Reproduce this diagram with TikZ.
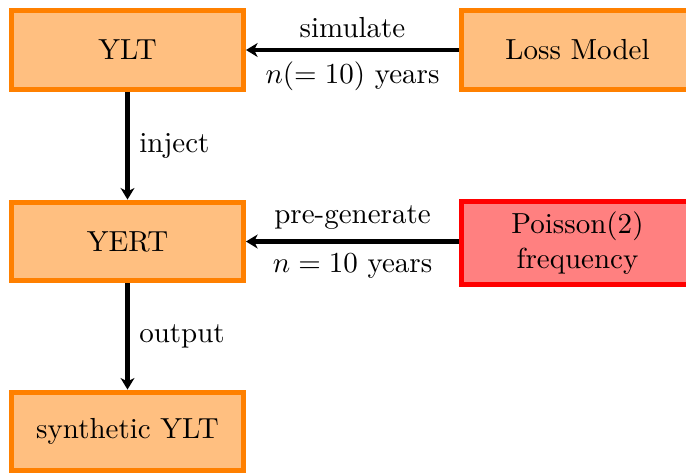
\documentclass[tikz,border=0pt]{standalone}
\usetikzlibrary{arrows.meta}
\begin{document}
\begin{tikzpicture}[x=0.3448pt,y=-0.3448pt,
  box/.style={draw=orange, fill=orange!50, line width=1.72pt,
    minimum width=80pt, minimum height=27.2pt, align=center, inner sep=2pt},
  redbox/.style={box, draw=red, fill=red!50, minimum height=28.6pt},
  flow/.style={-{Stealth[length=4pt,width=4.8pt,inset=1.2pt]}, line width=1.55pt},
  lbl/.style={inner sep=3.3pt}]
  \useasboundingbox (0,0) rectangle (686,472);

  % boxes
  \node[box] (ylt) at (127.5,50) {YLT};
  \node[box] (loss) at (577.5,50) {Loss Model};
  \node[box] (yert) at (127.5,241.5) {YERT};
  \node[redbox] (poi) at (577.5,243) {Poisson(2)\\frequency};
  \node[box] (syn) at (127.5,431.5) {synthetic YLT};

  % connectors
  \draw[flow] (loss) -- node[lbl, above] {simulate} node[lbl, below] {$n(=10)$ years} (ylt);
  \draw[flow] (poi.west |- yert.east) -- node[lbl, above] {pre-generate} node[lbl, below] {$n=10$ years} (yert.east);
  \draw[flow] (ylt) -- node[lbl, right] {inject} (yert);
  \draw[flow] (yert) -- node[lbl, right] {output} (syn);
\end{tikzpicture}
\end{document}
